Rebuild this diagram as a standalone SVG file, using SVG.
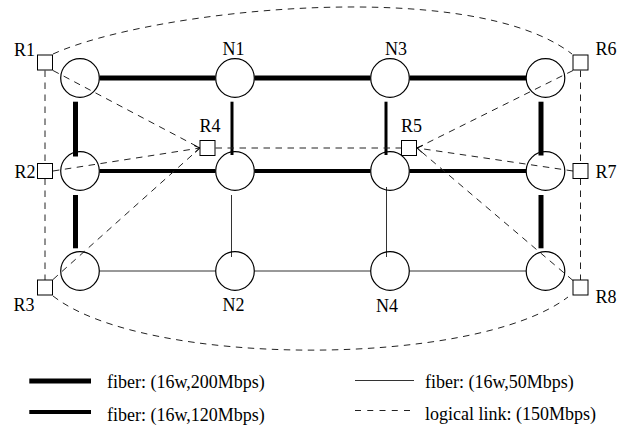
<svg xmlns="http://www.w3.org/2000/svg" width="623" height="427" viewBox="0 0 623 427">
<style>
text{font-family:"Liberation Serif","Times New Roman",serif;font-size:18px;fill:#000}
.node{fill:none;stroke:#000;stroke-width:1.2}
.rt{fill:#fff;stroke:#000;stroke-width:1}
.f200{stroke:#000;stroke-width:5;fill:none}
.f120{stroke:#000;stroke-width:4;fill:none}
.f120i{stroke:#000;stroke-width:3;fill:none}
.f50{stroke:#333;stroke-width:1;fill:none}
.lg{stroke:#222;stroke-width:1;stroke-dasharray:6.5 5.5;fill:none}
</style>
<defs>
<marker id="arr" markerUnits="userSpaceOnUse" markerWidth="10" markerHeight="10" refX="6" refY="4" orient="auto">
<path d="M0.5,0.5 L6,4 L0.5,7.5" fill="none" stroke="#000" stroke-width="1" stroke-dasharray="none"/>
</marker>
</defs>
<g id="connectors">
<line class="f200" x1="99.5" y1="78" x2="215.5" y2="78"/>
<line class="f200" x1="254.5" y1="78" x2="370.5" y2="78"/>
<line class="f200" x1="409.5" y1="78" x2="526" y2="78"/>
<line class="f200" x1="75.5" y1="101.7" x2="75.5" y2="156.5"/>
<line class="f200" x1="541" y1="101.7" x2="541" y2="155.5"/>
<line class="f200" x1="75.5" y1="195" x2="75.5" y2="248.3"/>
<line class="f200" x1="541" y1="195" x2="541" y2="248.3"/>
<line class="f120" x1="99.5" y1="171" x2="215.5" y2="171"/>
<line class="f120" x1="254.5" y1="171" x2="370.5" y2="171"/>
<line class="f120" x1="409.5" y1="171" x2="526" y2="171"/>
<line class="f120i" x1="232" y1="101.7" x2="232" y2="155"/>
<line class="f120i" x1="386" y1="101.7" x2="386" y2="155"/>
<line class="f50" x1="99.5" y1="271" x2="215.5" y2="271"/>
<line class="f50" x1="254.5" y1="271" x2="370.5" y2="271"/>
<line class="f50" x1="409.5" y1="271" x2="526" y2="271"/>
<line class="f50" x1="231.5" y1="195" x2="231.5" y2="257"/>
<line class="f50" x1="386.5" y1="187" x2="386.5" y2="257"/>
<path class="lg" d="M53,54 C150,10 470,-25 572,54"/>
<path class="lg" d="M53,296 C145,368 475,368 568,297"/>
<line class="lg" x1="45" y1="70.5" x2="45" y2="280"/>
<line class="lg" x1="580.5" y1="70.5" x2="580.5" y2="280"/>
<line class="lg" x1="53" y1="70.5" x2="200" y2="148"/>
<line class="lg" x1="53" y1="171" x2="200" y2="148" marker-end="url(#arr)"/>
<line class="lg" x1="53" y1="279.5" x2="200" y2="148"/>
<line class="lg" x1="215.5" y1="148" x2="401.5" y2="148"/>
<line class="lg" x1="573" y1="70.5" x2="417" y2="148"/>
<line class="lg" x1="573" y1="171" x2="417" y2="148" marker-end="url(#arr)"/>
<line class="lg" x1="573" y1="280.5" x2="417" y2="148"/>
</g>
<g id="A"><circle class="node" cx="80" cy="78" r="19.3"/></g>
<g id="N1"><circle class="node" cx="235" cy="78" r="19.3"/><text x="222.5" y="55">N1</text></g>
<g id="N3"><circle class="node" cx="390" cy="78" r="19.3"/><text x="385" y="55">N3</text></g>
<g id="B"><circle class="node" cx="545.5" cy="78" r="19.3"/></g>
<g id="C"><circle class="node" cx="80" cy="171" r="19.3"/></g>
<g id="D"><circle class="node" cx="235" cy="171" r="19.3"/></g>
<g id="E"><circle class="node" cx="390" cy="171" r="19.3"/></g>
<g id="F"><circle class="node" cx="545.5" cy="171" r="19.3"/></g>
<g id="G"><circle class="node" cx="80" cy="271" r="19.3"/></g>
<g id="N2"><circle class="node" cx="235" cy="271" r="19.3"/><text x="222.5" y="310.7">N2</text></g>
<g id="N4"><circle class="node" cx="390" cy="271" r="19.3"/><text x="376" y="311.5">N4</text></g>
<g id="H"><circle class="node" cx="545.5" cy="271" r="19.3"/></g>
<g id="R1"><rect class="rt" x="37.5" y="55" width="15" height="15"/><text x="14" y="56">R1</text></g>
<g id="R2"><rect class="rt" x="37.5" y="163.5" width="15" height="15"/><text x="14.5" y="178">R2</text></g>
<g id="R3"><rect class="rt" x="37.5" y="280" width="15" height="15"/><text x="13.5" y="310.7">R3</text></g>
<g id="R4"><rect class="rt" x="200" y="140.5" width="15" height="15"/><text x="199.5" y="132.3">R4</text></g>
<g id="R5"><rect class="rt" x="401.5" y="140.5" width="15" height="15"/><text x="401" y="132.3">R5</text></g>
<g id="R6"><rect class="rt" x="573" y="55" width="15" height="15"/><text x="595.5" y="55">R6</text></g>
<g id="R7"><rect class="rt" x="573" y="163.5" width="15" height="15"/><text x="595.5" y="178">R7</text></g>
<g id="R8"><rect class="rt" x="573" y="280" width="15" height="15"/><text x="595.5" y="303">R8</text></g>
<g id="legend">
<line class="f200" x1="29.3" y1="381" x2="91" y2="381"/>
<text x="107" y="388">fiber: (16w,200Mbps)</text>
<line class="f120" x1="29.3" y1="412" x2="91" y2="412"/>
<text x="107" y="420.5">fiber: (16w,120Mbps)</text>
<line class="f50" x1="355" y1="380.5" x2="414" y2="380.5"/>
<text x="425" y="387.5">fiber: (16w,50Mbps)</text>
<line class="lg" x1="355" y1="410.5" x2="414" y2="410.5" style="stroke-dasharray:6 6.25"/>
<text x="425" y="420">logical link: (150Mbps)</text>
</g>
</svg>
